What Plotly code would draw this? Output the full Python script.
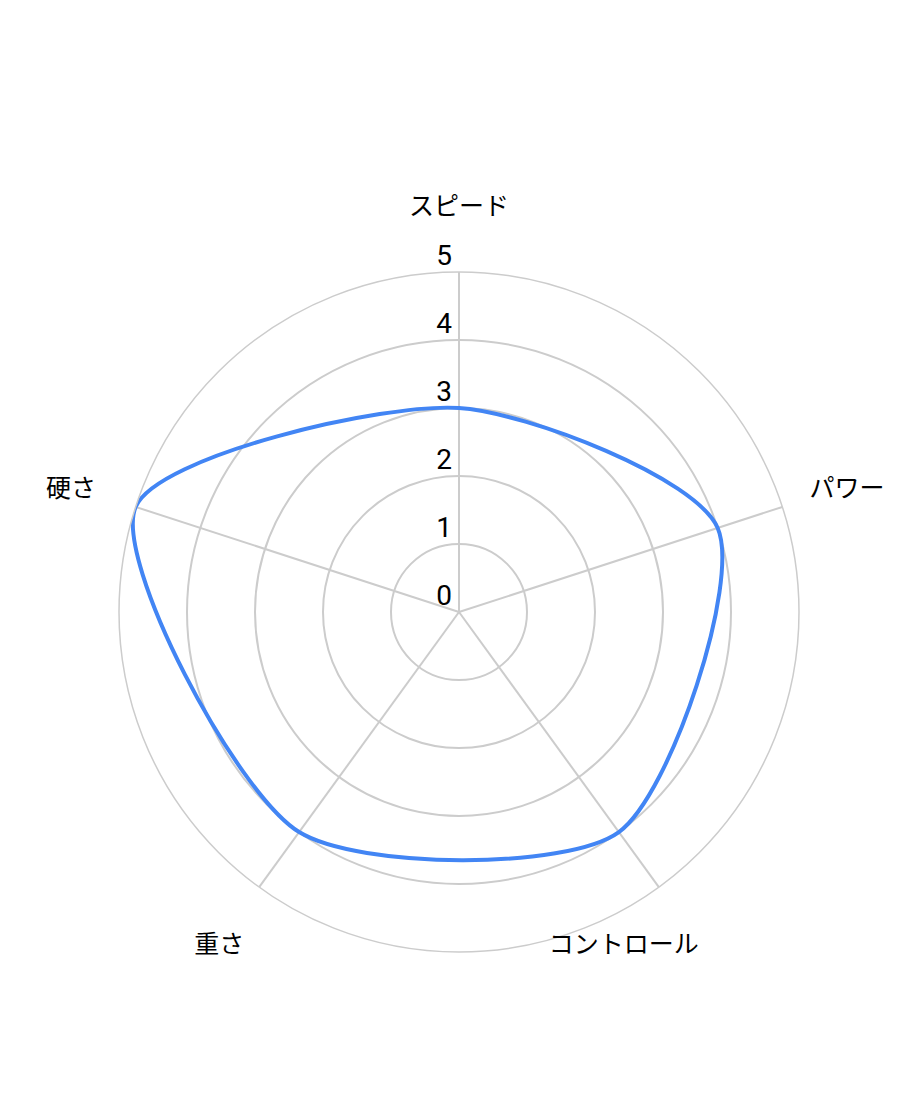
import plotly.graph_objects as go

categories = ["スピード", "パワー", "コントロール", "重さ", "硬さ"]
values = [3, 4, 4, 4, 5]
radial_ticks = [0, 1, 2, 3, 4, 5]
radial_labels = ["0", "1", "2", "3", "4", "5"]

grid_color = "#cccccc"
line_color = "#4285f4"

W, H = 920, 1104
cx, cy = 451, 604      # centre of the chart in figure pixels
r_chart = 340          # radius of the 5 ring
r_label = 440          # radius of the (hidden) label polar


def dom(radius, dy=0):
    return dict(x=[(cx - radius) / W, (cx + radius) / W],
                y=[(H - cy - dy - radius) / H, (H - cy - dy + radius) / H])


fig = go.Figure()

# the data line
fig.add_trace(go.Scatterpolar(
    r=values + values[:1],
    theta=categories + categories[:1],
    mode="lines",
    line=dict(color=line_color, width=4, shape="spline", smoothing=0.75),
    showlegend=False,
    hoverinfo="skip",
))

# radial value labels along the top spoke
fig.add_trace(go.Scatterpolar(
    r=radial_ticks,
    theta=[categories[0]] * len(radial_ticks),
    mode="text",
    text=[t + "\u00a0" for t in radial_labels],
    textposition="top left",
    textfont=dict(family="Roboto", size=28, color="#000000"),
    cliponaxis=False,
    showlegend=False,
    hoverinfo="skip",
))

# category labels, on a second, invisible polar that is a bit bigger
fig.add_trace(go.Scatterpolar(
    r=[5 * 408 / r_label] * len(categories),
    theta=categories,
    mode="text",
    text=categories,
    textposition=["middle center", "middle center", "middle left",
                  "middle center", "middle center"],
    textfont=dict(family="Noto Sans CJK JP", size=25, color="#000000"),
    cliponaxis=False,
    showlegend=False,
    hoverinfo="skip",
    subplot="polar2",
))

fig.update_layout(
    width=W,
    height=H,
    margin=dict(l=0, r=0, t=0, b=0),
    paper_bgcolor="white",
    polar=dict(
        domain=dom(r_chart),
        bgcolor="white",
        angularaxis=dict(
            rotation=90,
            direction="clockwise",
            gridcolor=grid_color,
            gridwidth=1.5,
            linecolor=grid_color,
            linewidth=1.5,
            showticklabels=False,
            ticks="",
        ),
        radialaxis=dict(
            range=[0, 5],
            tickvals=radial_ticks,
            showline=False,
            showticklabels=False,
            gridcolor=grid_color,
            gridwidth=1.5,
            ticks="",
        ),
    ),
    polar2=dict(
        domain=dom(r_label, dy=5),
        bgcolor="rgba(0,0,0,0)",
        angularaxis=dict(
            rotation=90,
            direction="clockwise",
            categoryarray=categories,
            showgrid=False,
            showline=False,
            showticklabels=False,
            ticks="",
        ),
        radialaxis=dict(
            range=[0, 5],
            visible=False,
        ),
    ),
)

fig.write_html("out.html")
